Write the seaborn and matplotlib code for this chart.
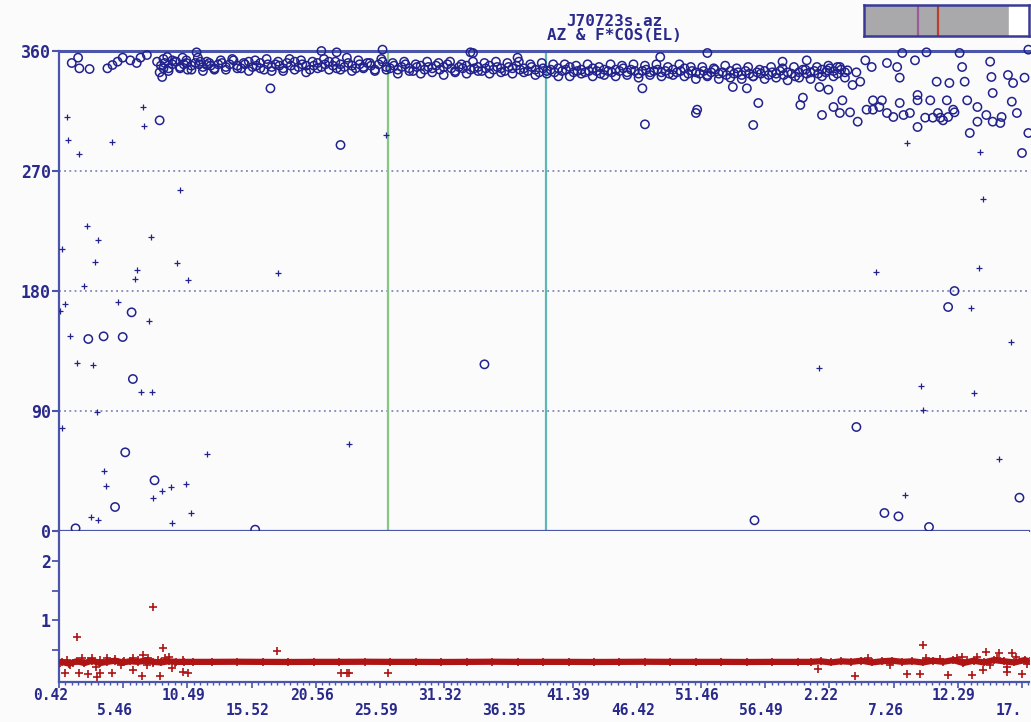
import matplotlib
matplotlib.use('Agg')
import matplotlib.pyplot as plt
import matplotlib.transforms as mtransforms
from matplotlib.ticker import AutoMinorLocator
import seaborn as sns

sns.set_style('white')
plt.rcParams['font.family'] = ['DejaVu Sans Mono', 'DejaVu Sans']
plt.rcParams['font.weight'] = 'bold'

NAVY = '#22228e'
AXC = '#4b56aa'
TXT = '#2a2a8c'
RED = '#ae1414'
BG = '#fbfbfb'

# ---------------- data ----------------
# elapsed time (minutes) of the labelled ticks, and the labels as printed
tick_t = [0.0, 5.04, 10.08, 15.12, 20.16, 25.2, 30.24, 35.28, 40.32, 45.36,
          50.4, 55.44, 60.48, 65.52, 70.56, 75.6]
tick_lbl = ['0.42', '5.46', '10.49', '15.52', '20.56', '25.59', '31.32', '36.35',
            '41.39', '46.42', '51.46', '56.49', '2.22', '7.26', '12.29', '17.']

cursor_t = [25.8, 38.2]

# azimuth, main track (circles)
band_t = [1.0, 1.5, 1.6, 2.4, 3.8, 4.2, 4.6, 5.0, 5.6, 6.1, 6.4, 6.9, 7.7, 7.9, 8.1,
          8.2, 8.5, 8.9, 9.7, 10.0, 10.8, 11.1, 11.6,
          8.0, 8.3, 8.6, 8.9, 9.2, 9.5, 9.8, 10.1, 10.4, 10.7,
          11.0, 11.3, 11.6, 11.9, 12.2, 12.5, 12.8, 13.1, 13.4, 13.7,
          14.0, 14.3, 14.6, 14.9, 15.2, 15.5, 15.8, 16.1, 16.4, 16.7,
          17.0, 17.3, 17.6, 17.9, 18.2, 18.5, 18.8, 19.1, 19.4, 19.7,
          20.0, 20.3, 20.6, 20.9, 21.2, 21.5, 21.8, 22.1, 22.4, 22.7,
          23.0, 23.3, 23.6, 23.9, 24.2, 24.5, 24.8, 25.1, 25.4, 25.7,
          26.0, 26.3, 26.6, 26.9, 27.2, 27.5, 27.8, 28.1, 28.4, 28.7,
          29.0, 29.3, 29.6, 29.9, 30.2, 30.5, 30.8, 31.1, 31.4, 31.7,
          32.0, 32.3, 32.6, 32.9, 33.2, 33.5, 33.8, 34.1, 34.4, 34.7,
          35.0, 35.3, 35.6, 35.9, 36.2, 36.5, 36.8, 37.1, 37.4, 37.7,
          38.0, 38.3, 38.6, 38.9, 39.2, 39.5, 39.8, 40.1, 40.4, 40.7,
          41.0, 41.3, 41.6, 41.9, 42.2, 42.5, 42.8, 43.1, 43.4, 43.7,
          44.0, 44.3, 44.6, 44.9, 45.2, 45.5, 45.8, 46.1, 46.4, 46.7,
          47.0, 47.3, 47.6, 47.9, 48.2, 48.5, 48.8, 49.1, 49.4, 49.7,
          50.0, 50.3, 50.6, 50.9, 51.2, 51.5, 51.8, 52.1, 52.4, 52.7,
          53.0, 53.3, 53.6, 53.9, 54.2, 54.5, 54.8, 55.1, 55.4, 55.7,
          56.0, 56.3, 56.6, 56.9, 57.2, 57.5, 57.8, 58.1, 58.4, 58.7,
          59.0, 59.3, 59.6, 59.9, 60.2, 60.5, 60.8, 61.1, 61.4, 61.7]
band_az = [351, 355, 347, 346.5, 347, 349.5, 352, 355, 353, 351, 355, 357, 352, 344, 340.5,
           347, 355.5, 353, 355, 351, 359, 352, 349.5,
           349, 351, 347, 350, 352, 348, 350, 346, 349, 351,
           350, 348, 352, 349, 347, 350, 351, 348, 350, 353,
           349, 347, 350, 352, 348, 349, 351, 346, 350, 348,
           350, 349, 347, 351, 349, 352, 348, 350, 349, 346,
           349, 351, 348, 350, 352, 349, 347, 350, 348, 351,
           349, 347, 350, 348, 351, 349, 346, 350, 352, 348,
           347, 349, 346, 348, 350, 347, 345, 348, 349, 346,
           348, 347, 349, 346, 348, 350, 347, 345, 348, 347,
           349, 346, 347, 348, 345, 347, 349, 346, 348, 347,
           345, 348, 347, 349, 346, 347, 345, 348, 346, 344,
           347, 345, 346, 344, 347, 345, 346, 348, 344, 345,
           346, 344, 345, 347, 345, 343, 346, 345, 344, 346,
           345, 347, 344, 346, 345, 343, 345, 346, 344, 345,
           346, 344, 345, 343, 346, 344, 345, 347, 343, 345,
           344, 343, 345, 342, 344, 346, 343, 344, 342, 345,
           343, 344, 342, 345, 343, 341, 344, 343, 345, 342,
           344, 343, 345, 342, 344, 343, 341, 344, 346, 343,
           344, 345, 343, 346, 344, 347, 345, 343, 346, 344]

# azimuth, second pass over the main track
band2_t = [8.2, 8.6, 9.1, 9.5, 10.0, 10.4, 10.9, 11.3, 11.8, 12.2,
           12.7, 13.1, 13.6, 14.0, 14.5, 14.9, 15.4, 15.8, 16.3, 16.7,
           17.2, 17.6, 18.1, 18.5, 19.0, 19.4, 19.9, 20.3, 20.8, 21.2,
           21.7, 22.1, 22.6, 23.0, 23.5, 23.9, 24.4, 24.8, 25.3, 25.7,
           26.2, 26.6, 27.1, 27.5, 28.0, 28.4, 28.9, 29.3, 29.8, 30.2,
           30.7, 31.1, 31.6, 32.0, 32.5, 32.9, 33.4, 33.8, 34.3, 34.7,
           35.2, 35.6, 36.1, 36.5, 37.0, 37.4, 37.9, 38.3, 38.8, 39.2,
           39.7, 40.1, 40.6, 41.0, 41.5, 41.9, 42.4, 42.8, 43.3, 43.7,
           44.2, 44.6, 45.1, 45.5, 46.0, 46.4, 46.9, 47.3, 47.8, 48.2,
           48.7, 49.1, 49.6, 50.0, 50.5, 50.9, 51.4, 51.8, 52.3, 52.7,
           53.2, 53.6, 54.1, 54.5, 55.0, 55.4, 55.9, 56.3, 56.8, 57.2,
           57.7, 58.1, 58.6, 59.0, 59.5, 59.9, 60.4, 60.8, 61.3, 61.7]
band2_az = [354, 345, 352, 347, 353, 346, 355, 345, 351, 346,
            353, 346, 354, 347, 351, 345, 353, 347, 354, 345,
            352, 345, 354, 346, 353, 344, 352, 347, 354, 346,
            352, 346, 355, 345, 353, 347, 351, 345, 354, 346,
            351, 343, 352, 345, 350, 343, 352, 344, 351, 342,
            352, 344, 350, 343, 352, 345, 351, 343, 352, 344,
            351, 343, 352, 344, 350, 342, 351, 343, 350, 341,
            350, 341, 349, 343, 350, 341, 348, 342, 350, 341,
            349, 342, 350, 340, 349, 342, 350, 341, 348, 342,
            350, 341, 348, 339, 348, 341, 347, 339, 349, 340,
            347, 339, 348, 341, 346, 339, 348, 340, 347, 338,
            348, 340, 346, 339, 348, 341, 349, 341, 348, 340]

# azimuth, stray circles
odd_t = [20.6, 21.8, 25.4, 32.3, 32.5, 36.0, 47.2, 16.6, 7.9, 22.1, 46.0, 45.8, 50.0,
         50.1, 50.9, 52.9, 54.0, 54.5, 54.9, 56.8, 58.2, 58.4, 58.7, 59.7, 60.4, 59.9,
         60.8, 61.5, 62.3, 62.9, 62.7, 61.3, 62.1, 63.4, 63.9, 64.4, 65.0, 65.5, 66.0,
         66.2, 67.2, 67.4, 67.4, 68.1, 68.4, 68.9, 69.2, 69.7, 69.9, 70.7, 70.9, 71.1,
         71.3, 71.5, 72.1, 72.8, 73.1, 73.2, 73.3, 73.9, 74.5, 74.8, 75.2, 75.6, 75.8,
         76.1, 76.1, 74.9, 69.0, 69.4, 70.2, 73.3, 74.0, 72.1, 67.4, 66.8, 66.3, 63.9,
         64.6, 66.0, 63.3, 63.8, 65.0, 65.8, 62.6, 61.9, 61.1, 60.3, 68.6, 69.8, 70.3,
         68.0,
         1.3, 4.4, 5.2, 7.5, 5.8, 5.7, 2.3, 3.5, 5.0, 15.4, 33.4, 54.6, 62.6, 69.8, 70.3,
         64.8, 65.9, 68.3, 75.4]
odd_az = [360, 359, 361, 359, 358.5, 355, 355.5, 332, 308, 289.5, 305, 332, 313.5,
          316, 358.5, 333, 332, 304.5, 321, 352, 319.5, 325, 353, 333, 331, 312,
          318, 323, 334.5, 337, 307, 313.5, 314, 316, 316, 318, 313.5, 310.5, 340,
          358.5, 353, 327, 303, 359, 323, 337, 310, 323, 336, 358.5, 348, 337,
          323, 298.5, 318, 312, 352, 340.5, 328.5, 306, 342, 322, 313.5, 283.5, 340,
          361, 298.5, 336, 313.5, 308, 316, 307, 310.5, 307, 323, 313.5, 312, 323,
          323, 321, 353, 348, 351, 348, 344, 345.5, 348, 345.5, 310, 310.5, 314,
          310,
          2, 18, 59, 38, 114, 164, 144, 146, 145.5, 1, 125, 8, 78, 168, 180,
          13.5, 11, 3, 25]

# azimuth, crosses
plus_t = [0.6, 0.7, 1.6, 4.2, 6.6, 6.7, 9.5, 2.2, 3.1, 0.2, 7.2, 2.8, 6.1, 9.3, 6.0,
          10.1, 2.0, 4.6, 0.5, 0.1, 7.1, 0.9, 1.4, 2.7, 6.4, 7.3, 3.0, 0.2, 11.6, 3.5,
          3.7, 8.1, 8.8, 10.0, 7.4, 10.4, 2.5, 3.1, 8.9, 17.2, 22.8, 25.7, 59.7, 64.1,
          67.7, 67.8, 72.5, 72.2, 71.6, 74.7, 71.8, 73.8, 66.4, 66.6, 72.3]
plus_az = [310.5, 293, 283, 292, 318, 304, 256, 229, 218, 211.5, 220.5, 202, 196, 201, 189,
           188, 184, 172, 170, 165, 157.5, 146, 126, 124.5, 104, 104, 89, 77, 58, 45,
           34, 30, 33, 35, 25, 13.5, 10.5, 8, 6, 193.5, 65, 297, 122, 194,
           109, 91, 249, 197, 167, 142, 103.5, 54, 27, 291, 284]

# F*cos(EL): main trace and stray crosses
f_t = [0.2, 0.8, 1.4, 2.0, 2.6, 3.2, 3.8, 4.4, 5.0, 5.6, 6.2, 6.8, 7.4, 8.0, 8.6, 9.2,
       9.8, 10.5, 12, 14, 16, 18, 20, 22, 24, 26, 28, 30, 32, 34, 36, 38, 40, 42, 44,
       46, 48, 50, 52, 54, 56, 58, 59.0, 59.8, 60.6, 61.4, 62.2, 63.0, 63.8, 64.6,
       65.4, 66.2, 67.0, 67.8, 68.6, 69.4, 70.2, 71.0, 71.8, 72.6, 73.4, 74.2, 75.0,
       75.8, 76.2]
f_v = [0.30, 0.27, 0.31, 0.28, 0.32, 0.28, 0.30, 0.32, 0.29, 0.31, 0.30, 0.32, 0.30, 0.29,
       0.31, 0.30, 0.30, 0.30, 0.30, 0.302, 0.30, 0.298, 0.30, 0.30, 0.302, 0.30, 0.30,
       0.298, 0.30, 0.302, 0.30, 0.30, 0.30, 0.298, 0.30, 0.302, 0.30, 0.30, 0.30,
       0.298, 0.30, 0.30, 0.30, 0.31, 0.29, 0.31, 0.30, 0.32, 0.29, 0.31, 0.32, 0.30,
       0.31, 0.29, 0.32, 0.30, 0.33, 0.28, 0.32, 0.29, 0.33, 0.31, 0.29, 0.33, 0.31]
fx_t = [1.4, 7.4, 8.2, 17.1, 0.1, 0.5, 1.6, 2.3, 3.0, 3.2, 4.2, 5.8, 6.5, 7.9, 8.9, 9.7,
        10.1, 6.6, 22.1, 22.6, 22.8, 25.8, 59.6, 62.5, 66.6, 67.6, 67.8, 69.8, 71.7,
        72.5, 74.4, 75.6, 0.6, 1.1, 1.8, 2.3, 2.9, 3.2, 3.8, 4.4, 5.1, 5.8, 6.2, 7.0,
        7.4, 7.8, 8.6, 9.1, 9.7, 72.1, 72.8, 73.8, 74.8, 74.4, 73.6, 71.3, 70.5, 69.2,
        0.9, 2.6, 4.9, 6.9, 8.3, 63.5, 65.2, 68.1, 70.9, 73.1, 75.1, 76.0]
fx_v = [0.72, 1.22, 0.53, 0.48, 0.28, 0.11, 0.11, 0.09, 0.04, 0.11, 0.11, 0.16, 0.06, 0.06,
        0.19, 0.13, 0.11, 0.41, 0.11, 0.11, 0.11, 0.11, 0.18, 0.06, 0.09, 0.09, 0.58,
        0.08, 0.08, 0.16, 0.13, 0.09, 0.33, 0.28, 0.36, 0.32, 0.21, 0.33, 0.36, 0.34,
        0.31, 0.36, 0.33, 0.36, 0.28, 0.33, 0.38, 0.28, 0.33, 0.38, 0.46, 0.45, 0.45,
        0.21, 0.36, 0.33, 0.36, 0.35,
        0.24, 0.37, 0.25, 0.24, 0.37, 0.36, 0.25, 0.37, 0.38, 0.24, 0.39, 0.27]

# ---------------- figure ----------------
fig = plt.figure(figsize=(10.31, 7.22), dpi=100, facecolor=BG)
ax = fig.add_axes([59 / 1031, 191 / 722, 970 / 1031, 480 / 722], facecolor=BG)
axb = fig.add_axes([59 / 1031, 40 / 722, 970 / 1031, 151 / 722], facecolor=BG, sharex=ax)

# top panel: azimuth
for y in [90, 180, 270]:
    ax.axhline(y, color='#6a74b4', lw=1.1, ls=(0, (1.2, 2.2)), zorder=1)
for t, c in zip(cursor_t, ['#84c884', '#5fb6b6']):
    ax.axvline(t, color=c, lw=1.6, zorder=2)

for xs, ys in [(band_t, band_az), (band2_t, band2_az), (odd_t, odd_az)]:
    sns.scatterplot(x=xs, y=ys, ax=ax, marker='o', s=36, facecolor='none',
                    edgecolor=NAVY, linewidth=1.1, clip_on=False, legend=False, zorder=3)
sns.scatterplot(x=plus_t, y=plus_az, ax=ax, marker='+', s=18, color=NAVY,
                linewidth=0.9, legend=False, zorder=3)

ax.set_xlim(0, 76.15)
ax.set_ylim(0, 360)
ax.set_yticks([0, 90, 180, 270, 360])
ax.set_yticklabels(['0', '90', '180', '270', '360'])
ax.tick_params(axis='y', colors=AXC, labelcolor=TXT, length=5, width=1.5, pad=1,
               labelsize=12, left=True)
ax.tick_params(axis='x', bottom=False, labelbottom=False)
for side in ['left', 'top', 'bottom']:
    ax.spines[side].set_color(AXC)
    ax.spines[side].set_linewidth(1.6)
ax.spines['top'].set_linewidth(2.2)
ax.spines['right'].set_visible(False)
ax.set_xlabel('')
ax.set_ylabel('')

# bottom panel: F*cos(EL)
sns.lineplot(x=f_t, y=f_v, ax=axb, color=RED, lw=4.5, estimator=None, sort=True,
             legend=False, zorder=2)
sns.scatterplot(x=f_t, y=f_v, ax=axb, marker='+', s=28, color=RED, linewidth=1.2,
                legend=False, zorder=3)
sns.scatterplot(x=fx_t, y=fx_v, ax=axb, marker='+', s=28, color=RED, linewidth=1.2,
                legend=False, zorder=3)

axb.set_ylim(-0.04, 2.51)
axb.set_yticks([1, 2])
axb.set_yticklabels(['1', '2'])
axb.set_yticks([0.5, 1.5], minor=True)
axb.tick_params(axis='y', which='both', colors=AXC, labelcolor=TXT, length=5, width=1.3,
                pad=1, labelsize=12, left=True)
axb.set_xticks(tick_t)
axb.set_xticklabels([('\n' + s) if i % 2 else s for i, s in enumerate(tick_lbl)])
axb.xaxis.set_minor_locator(AutoMinorLocator(10))
axb.tick_params(axis='x', which='major', colors=AXC, labelcolor=TXT, length=4, width=1.2,
                pad=0.5, labelsize=10.5, bottom=True)
axb.tick_params(axis='x', which='minor', colors=AXC, length=2.2, width=1.0, bottom=True)
shift = mtransforms.ScaledTranslation(-0.26, 0, fig.dpi_scale_trans)
for lbl in axb.get_xticklabels():
    lbl.set_horizontalalignment('left')
    lbl.set_transform(lbl.get_transform() + shift)
    lbl.set_linespacing(0.95)
for side in ['left', 'bottom']:
    axb.spines[side].set_color(AXC)
    axb.spines[side].set_linewidth(1.6)
axb.spines['top'].set_visible(False)
axb.spines['right'].set_visible(False)
axb.set_xlabel('')
axb.set_ylabel('')
axb.set_xlim(0, 76.15)

# title
fig.text(614 / 1031, 1 - 21 / 722, 'J70723s.az', ha='center', va='center',
         color=TXT, fontsize=11.5, fontweight='bold')
fig.text(614 / 1031, 1 - 36 / 722, 'AZ & F*COS(EL)', ha='center', va='center',
         color=TXT, fontsize=11.5, fontweight='bold')

# scroll indicator, top right
sc = fig.add_axes([864 / 1031, 1 - 36 / 722, 165 / 1031, 31 / 722])
sc.set_xlim(0, 1)
sc.set_ylim(0, 1)
sc.axvspan(0, 0.88, color='#a9a9ab')
sc.axvspan(0.88, 1, color='white')
sc.axvline(0.33, color='#9b5a9b', lw=1.6)
sc.axvline(0.45, color='#b8402c', lw=1.6)
sc.set_xticks([])
sc.set_yticks([])
for s in sc.spines.values():
    s.set_color('#3a3a96')
    s.set_linewidth(1.8)

fig.savefig('out.png', dpi=100, facecolor=BG)
